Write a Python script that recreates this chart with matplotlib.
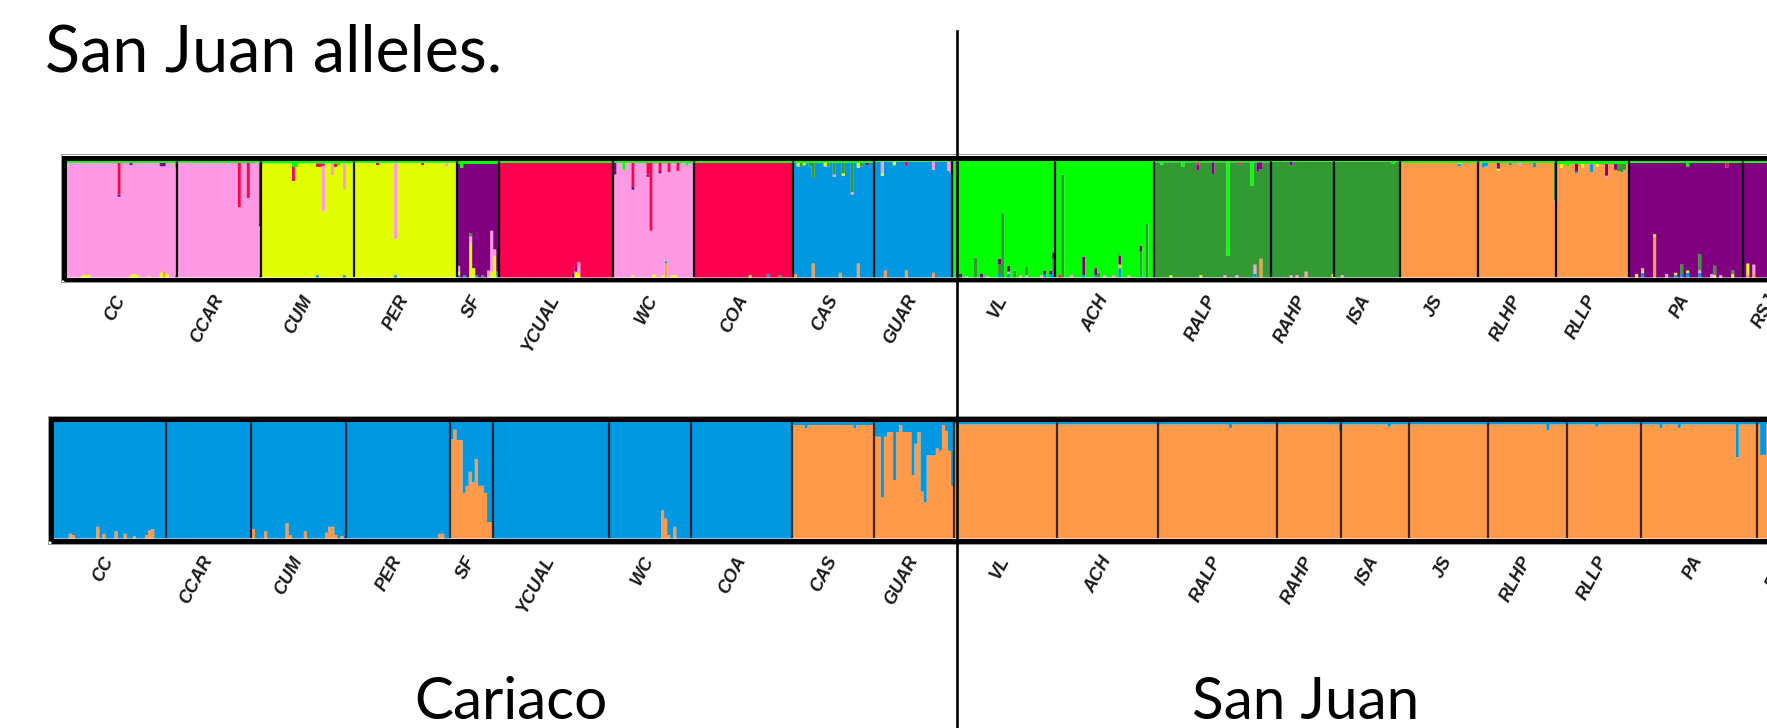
import numpy as np
import matplotlib
matplotlib.use("Agg")
import matplotlib.pyplot as plt
from matplotlib.patches import Rectangle
from matplotlib.lines import Line2D

# ---------------------------------------------------------------- data
pops = ["CC", "CCAR", "CUM", "PER", "SF", "YCUAL", "WC", "COA", "CAS", "GUAR",
        "VL", "ACH", "RALP", "RAHP", "ISA", "JS", "RLHP", "RLLP", "PA", "RSJ"]
pop_sizes = [37, 28, 31, 34, 14, 38, 27, 33, 27, 26,
             34, 33, 39, 21, 22, 26, 26, 24, 38, 20]

# cluster stacking order (bottom -> top) and colours
top_clusters = ["orange", "blue", "yellow", "pink", "dkgreen", "purple", "red", "green"]
bottom_clusters = ["orange", "blue"]
cluster_colors = {"orange": "#FF9A4B", "blue": "#0099E1", "yellow": "#E1FF00",
                  "pink": "#FF99E3", "dkgreen": "#339933", "purple": "#800080",
                  "red": "#FF0050", "green": "#00FF00"}

# upper panel (K = 8): main cluster per population and thin green share on top
top_main = ["pink", "pink", "yellow", "yellow", "purple", "red", "pink", "red", "blue", "blue",
            "green", "green", "dkgreen", "dkgreen", "dkgreen", "orange", "orange", "orange",
            "purple", "purple"]
top_strip = [0.02, 0.02, 0.025, 0.02, 0.03, 0.02, 0.02, 0.02, 0.02, 0.01,
             0.0, 0.0, 0.015, 0.01, 0.01, 0.02, 0.02, 0.03, 0.02, 0.02]
# admixed individuals: (population, individual, cluster, proportion)
top_admixture = [
    ("CC", 5, "yellow", 0.02), ("CC", 6, "yellow", 0.02), ("CC", 7, "yellow", 0.02),
    ("CC", 17, "red", 0.27), ("CC", 17, "purple", 0.02), ("CC", 21, "purple", 0.02),
    ("CC", 21, "yellow", 0.02), ("CC", 22, "yellow", 0.03), ("CC", 23, "yellow", 0.02),
    ("CC", 27, "yellow", 0.01), ("CC", 31, "purple", 0.03), ("CC", 31, "yellow", 0.04),
    ("CC", 32, "purple", 0.03), ("CC", 32, "orange", 0.06), ("CC", 33, "yellow", 0.03),
    ("CC", 36, "green", 0.04), ("CC", 36, "blue", 0.02),
    ("CCAR", 20, "red", 0.38), ("CCAR", 23, "red", 0.30), ("CCAR", 27, "red", 0.52),
    ("CCAR", 27, "purple", 0.02), ("CCAR", 27, "blue", 0.02),
    ("CUM", 10, "red", 0.12), ("CUM", 10, "green", 0.03), ("CUM", 11, "green", 0.03),
    ("CUM", 18, "red", 0.03), ("CUM", 18, "blue", 0.02), ("CUM", 19, "red", 0.03),
    ("CUM", 20, "pink", 0.39), ("CUM", 20, "red", 0.02), ("CUM", 23, "pink", 0.10),
    ("CUM", 24, "red", 0.03), ("CUM", 25, "green", 0.02), ("CUM", 27, "pink", 0.22),
    ("CUM", 27, "blue", 0.02),
    ("PER", 7, "red", 0.02), ("PER", 13, "pink", 0.65), ("PER", 13, "blue", 0.02),
    ("PER", 22, "red", 0.02), ("PER", 30, "pink", 0.03),
    ("SF", 0, "yellow", 0.03), ("SF", 0, "blue", 0.02), ("SF", 0, "pink", 0.05),
    ("SF", 1, "green", 0.03), ("SF", 2, "blue", 0.02), ("SF", 4, "yellow", 0.30),
    ("SF", 4, "pink", 0.05), ("SF", 4, "dkgreen", 0.03), ("SF", 5, "yellow", 0.08),
    ("SF", 6, "blue", 0.02), ("SF", 8, "dkgreen", 0.02), ("SF", 10, "pink", 0.06),
    ("SF", 11, "pink", 0.35), ("SF", 11, "yellow", 0.05), ("SF", 12, "yellow", 0.18),
    ("SF", 12, "pink", 0.06), ("SF", 13, "dkgreen", 0.03), ("SF", 13, "blue", 0.02),
    ("YCUAL", 24, "purple", 0.03), ("YCUAL", 25, "yellow", 0.05), ("YCUAL", 25, "purple", 0.04),
    ("YCUAL", 26, "pink", 0.10), ("YCUAL", 26, "yellow", 0.03),
    ("WC", 0, "purple", 0.10), ("WC", 3, "green", 0.06), ("WC", 6, "red", 0.20),
    ("WC", 6, "purple", 0.03), ("WC", 6, "yellow", 0.02), ("WC", 11, "red", 0.10),
    ("WC", 11, "purple", 0.02), ("WC", 12, "red", 0.58), ("WC", 13, "yellow", 0.03),
    ("WC", 15, "red", 0.07), ("WC", 15, "purple", 0.02), ("WC", 16, "yellow", 0.02),
    ("WC", 17, "orange", 0.12), ("WC", 17, "blue", 0.02), ("WC", 18, "red", 0.08),
    ("WC", 19, "yellow", 0.02), ("WC", 20, "yellow", 0.02), ("WC", 21, "red", 0.07),
    ("WC", 24, "green", 0.02),
    ("COA", 18, "yellow", 0.02), ("COA", 24, "blue", 0.03), ("COA", 28, "dkgreen", 0.02),
    ("CAS", 0, "orange", 0.03), ("CAS", 1, "yellow", 0.03), ("CAS", 2, "dkgreen", 0.03),
    ("CAS", 3, "yellow", 0.02), ("CAS", 5, "dkgreen", 0.03), ("CAS", 6, "dkgreen", 0.13),
    ("CAS", 6, "orange", 0.12), ("CAS", 10, "yellow", 0.03), ("CAS", 11, "dkgreen", 0.03),
    ("CAS", 13, "dkgreen", 0.10), ("CAS", 13, "pink", 0.02), ("CAS", 15, "orange", 0.04),
    ("CAS", 16, "dkgreen", 0.09), ("CAS", 16, "yellow", 0.02), ("CAS", 19, "dkgreen", 0.25),
    ("CAS", 19, "pink", 0.02), ("CAS", 21, "yellow", 0.04), ("CAS", 21, "orange", 0.12),
    ("CAS", 22, "dkgreen", 0.03), ("CAS", 24, "purple", 0.02),
    ("GUAR", 2, "pink", 0.10), ("GUAR", 2, "yellow", 0.02), ("GUAR", 3, "orange", 0.06),
    ("GUAR", 6, "yellow", 0.03), ("GUAR", 10, "red", 0.04), ("GUAR", 10, "orange", 0.06),
    ("GUAR", 19, "pink", 0.07), ("GUAR", 19, "orange", 0.04), ("GUAR", 24, "pink", 0.08),
    ("GUAR", 25, "pink", 0.10),
    ("VL", 1, "pink", 0.02), ("VL", 1, "blue", 0.02), ("VL", 2, "purple", 0.03),
    ("VL", 4, "pink", 0.01), ("VL", 7, "dkgreen", 0.17), ("VL", 9, "purple", 0.03),
    ("VL", 11, "pink", 0.01), ("VL", 15, "blue", 0.03), ("VL", 15, "dkgreen", 0.08),
    ("VL", 15, "purple", 0.05), ("VL", 16, "dkgreen", 0.55), ("VL", 18, "purple", 0.05),
    ("VL", 18, "blue", 0.03), ("VL", 18, "pink", 0.02), ("VL", 20, "dkgreen", 0.06),
    ("VL", 22, "pink", 0.02), ("VL", 24, "dkgreen", 0.07), ("VL", 24, "pink", 0.02),
    ("VL", 29, "pink", 0.02), ("VL", 30, "blue", 0.03), ("VL", 30, "purple", 0.03),
    ("VL", 32, "blue", 0.03), ("VL", 32, "purple", 0.03), ("VL", 33, "dkgreen", 0.12),
    ("VL", 33, "purple", 0.05), ("VL", 33, "blue", 0.04),
    ("ACH", 1, "red", 0.02), ("ACH", 2, "dkgreen", 0.88), ("ACH", 5, "pink", 0.02),
    ("ACH", 9, "purple", 0.16), ("ACH", 9, "blue", 0.02), ("ACH", 13, "purple", 0.06),
    ("ACH", 13, "blue", 0.02), ("ACH", 14, "dkgreen", 0.04), ("ACH", 16, "pink", 0.02),
    ("ACH", 19, "pink", 0.02), ("ACH", 21, "blue", 0.08), ("ACH", 21, "yellow", 0.03),
    ("ACH", 21, "purple", 0.08), ("ACH", 24, "pink", 0.02), ("ACH", 28, "dkgreen", 0.20),
    ("ACH", 28, "purple", 0.05), ("ACH", 28, "blue", 0.02), ("ACH", 30, "dkgreen", 0.46),
    ("RALP", 2, "green", 0.02), ("RALP", 5, "yellow", 0.02), ("RALP", 9, "green", 0.04),
    ("RALP", 14, "purple", 0.05), ("RALP", 14, "red", 0.02), ("RALP", 15, "yellow", 0.02),
    ("RALP", 19, "purple", 0.10), ("RALP", 23, "pink", 0.02), ("RALP", 24, "green", 0.80),
    ("RALP", 27, "pink", 0.02), ("RALP", 28, "red", 0.02), ("RALP", 32, "green", 0.20),
    ("RALP", 33, "pink", 0.08), ("RALP", 33, "blue", 0.03), ("RALP", 34, "purple", 0.08),
    ("RALP", 35, "purple", 0.06), ("RALP", 35, "orange", 0.16),
    ("RAHP", 6, "purple", 0.03), ("RAHP", 6, "pink", 0.02), ("RAHP", 8, "pink", 0.02),
    ("RAHP", 11, "pink", 0.03), ("RAHP", 11, "orange", 0.02), ("RAHP", 20, "yellow", 0.03),
    ("ISA", 2, "pink", 0.02), ("ISA", 19, "green", 0.02),
    ("JS", 19, "blue", 0.02), ("JS", 19, "yellow", 0.01),
    ("RLHP", 1, "blue", 0.04), ("RLHP", 2, "blue", 0.03), ("RLHP", 6, "purple", 0.05),
    ("RLHP", 6, "yellow", 0.02), ("RLHP", 10, "blue", 0.02), ("RLHP", 13, "pink", 0.02),
    ("RLHP", 18, "blue", 0.04), ("RLHP", 25, "dkgreen", 0.32), ("RLHP", 25, "pink", 0.02),
    ("RLLP", 1, "yellow", 0.03), ("RLLP", 3, "green", 0.02), ("RLLP", 6, "purple", 0.06),
    ("RLLP", 6, "blue", 0.02), ("RLLP", 8, "yellow", 0.03), ("RLLP", 11, "blue", 0.07),
    ("RLLP", 13, "yellow", 0.02), ("RLLP", 16, "purple", 0.10), ("RLLP", 16, "pink", 0.02),
    ("RLLP", 19, "purple", 0.05), ("RLLP", 20, "dkgreen", 0.06), ("RLLP", 21, "dkgreen", 0.07),
    ("RLLP", 22, "dkgreen", 0.05),
    ("PA", 2, "yellow", 0.03), ("PA", 4, "pink", 0.02), ("PA", 4, "blue", 0.04),
    ("PA", 4, "yellow", 0.02), ("PA", 8, "yellow", 0.02), ("PA", 8, "orange", 0.35),
    ("PA", 12, "pink", 0.03), ("PA", 15, "yellow", 0.02), ("PA", 15, "blue", 0.02),
    ("PA", 17, "dkgreen", 0.08), ("PA", 17, "blue", 0.03), ("PA", 19, "blue", 0.04),
    ("PA", 19, "yellow", 0.02), ("PA", 19, "green", 0.03), ("PA", 23, "dkgreen", 0.14),
    ("PA", 23, "blue", 0.04), ("PA", 23, "pink", 0.02), ("PA", 27, "pink", 0.03),
    ("PA", 28, "dkgreen", 0.08), ("PA", 28, "yellow", 0.02), ("PA", 30, "pink", 0.02),
    ("PA", 32, "red", 0.04), ("PA", 34, "yellow", 0.03), ("PA", 34, "dkgreen", 0.03),
    ("RSJ", 1, "yellow", 0.10), ("RSJ", 1, "orange", 0.02), ("RSJ", 3, "pink", 0.08),
    ("RSJ", 3, "orange", 0.03),
]

# lower panel (K = 2)
bottom_main = ["blue"] * 8 + ["orange"] * 12
bottom_strip = [0.0] * 8 + [0.03, 0.0] + [0.025] * 10
guar_blue = [0.13, 0.13, 0.65, 0.13, 0.09, 0.09, 0.50, 0.09, 0.03, 0.09, 0.09, 0.09, 0.46,
             0.19, 0.09, 0.60, 0.69, 0.29, 0.29, 0.29, 0.23, 0.25, 0.03, 0.08, 0.25, 0.55]
sf_orange = [0.85, 0.93, 0.84, 0.84, 0.39, 0.45, 0.57, 0.48, 0.68, 0.45, 0.45, 0.39, 0.14, 0.14]
bottom_admixture = [
    ("CC", 5, "orange", 0.04), ("CC", 6, "orange", 0.03), ("CC", 14, "orange", 0.10),
    ("CC", 16, "orange", 0.04), ("CC", 20, "orange", 0.06), ("CC", 23, "orange", 0.04),
    ("CC", 26, "orange", 0.02), ("CC", 30, "orange", 0.03), ("CC", 31, "orange", 0.07),
    ("CC", 32, "orange", 0.08),
    ("CUM", 0, "orange", 0.08), ("CUM", 4, "orange", 0.06), ("CUM", 11, "orange", 0.13),
    ("CUM", 12, "orange", 0.03), ("CUM", 17, "orange", 0.06), ("CUM", 24, "orange", 0.05),
    ("CUM", 25, "orange", 0.10), ("CUM", 26, "orange", 0.10), ("CUM", 27, "orange", 0.03),
    ("CUM", 29, "orange", 0.02),
    ("PER", 30, "orange", 0.04), ("PER", 31, "orange", 0.04),
    ("WC", 17, "orange", 0.24), ("WC", 18, "orange", 0.17), ("WC", 19, "orange", 0.03),
    ("WC", 21, "orange", 0.10),
    ("CAS", 4, "blue", 0.03), ("CAS", 20, "blue", 0.03),
    ("RALP", 23, "blue", 0.03), ("RAHP", 20, "blue", 0.06), ("ISA", 15, "blue", 0.02),
    ("RLHP", 19, "blue", 0.05), ("RLLP", 9, "blue", 0.02), ("PA", 6, "blue", 0.03),
    ("PA", 12, "blue", 0.03), ("PA", 31, "blue", 0.28), ("RSJ", 1, "blue", 0.26),
    ("RSJ", 2, "blue", 0.26),
] + [("GUAR", i, "blue", v) for i, v in enumerate(guar_blue)] \
  + [("SF", i, "orange", v) for i, v in enumerate(sf_orange)]

# ---------------------------------------------------------------- helpers
W, H = 1767, 728
fig = plt.figure(figsize=(W / 100, H / 100), dpi=100, facecolor="white")

starts = np.concatenate([[0], np.cumsum(pop_sizes)])
n_ind = int(starts[-1])
pop_index = {p: i for i, p in enumerate(pops)}


def membership(clusters, main, strip, strip_cluster, admixture):
    col = {c: k for k, c in enumerate(clusters)}
    q = np.zeros((n_ind, len(clusters)))
    for p in range(len(pops)):
        if main[p] != strip_cluster:
            q[starts[p]:starts[p + 1], col[strip_cluster]] = strip[p]
    for pop, i, c, f in admixture:
        q[starts[pop_index[pop]] + i, col[c]] += f
    for p in range(len(pops)):
        rows = slice(starts[p], starts[p + 1])
        q[rows, col[main[p]]] = 1.0 - q[rows].sum(axis=1)
    return q


def fig_rect(x0, y0, x1, y1):
    return [x0 / W, 1 - y1 / H, (x1 - x0) / W, (y1 - y0) / H]


def draw_panel(q, clusters, bar_left, px_per_ind, y_top, y_bot, sep_alpha):
    x_right = bar_left + n_ind * px_per_ind
    ax = fig.add_axes(fig_rect(bar_left, y_top, x_right, y_bot))
    x = np.arange(n_ind + 1)
    base = np.zeros(n_ind)
    for k, c in enumerate(clusters):
        top = base + q[:, k]
        ax.fill_between(x, np.append(base, base[-1]), np.append(top, top[-1]),
                        step="post", color=cluster_colors[c], linewidth=0)
        base = top
    ax.vlines(starts[1:-1], 0, 1, color="black", linewidth=1.6, alpha=sep_alpha)
    ax.set_xlim(0, n_ind)
    ax.set_ylim(0, 1)
    for s in ax.spines.values():
        s.set_visible(False)
    ax.set_yticks([])
    centers = (starts[:-1] + starts[1:]) / 2
    ax.set_xticks(centers)
    ax.set_xticklabels(pops, rotation=62, ha="right", va="center",
                       rotation_mode="anchor", fontsize=13, style="italic",
                       fontweight="bold", family="Liberation Sans", color="#1a1a1a")
    ax.tick_params(axis="x", length=0, pad=14)
    # thick black frame with a faint grey rim
    fr = 5
    fig.add_artist(Rectangle(((bar_left - fr / 2) / W, 1 - (y_bot + fr / 2) / H),
                             (x_right - bar_left + fr) / W, (y_bot - y_top + fr) / H,
                             transform=fig.transFigure, fill=False,
                             edgecolor="black", linewidth=fr * 0.72, zorder=3))
    fig.add_artist(Rectangle(((bar_left - fr - 0.5) / W, 1 - (y_bot + fr + 0.5) / H),
                             (x_right - bar_left + 2 * fr + 1) / W,
                             (y_bot - y_top + 2 * fr + 1) / H,
                             transform=fig.transFigure, fill=False,
                             edgecolor="#9a9a9a", linewidth=0.7, zorder=3))
    return ax


q_top = membership(top_clusters, top_main, top_strip, "green", top_admixture)
q_bot = membership(bottom_clusters, bottom_main, bottom_strip, "blue", bottom_admixture)

draw_panel(q_top, top_clusters, 66, 3.005, 160, 277, 0.95)
draw_panel(q_bot, bottom_clusters, 53, 3.053, 421, 538, 0.75)

# region divider
fig.add_artist(Line2D([957 / W, 957 / W], [1 - 31 / H, 0], color="black",
                      linewidth=1.9, zorder=5))

title_font = dict(family="Lato", color="black")
fig.text(45 / W, 1 - 72 / H, "San Juan alleles.", fontsize=46.5, ha="left",
         va="baseline", **title_font)
fig.text(511 / W, 1 - 719 / H, "Cariaco", fontsize=42, ha="center", va="baseline",
         **title_font)
fig.text(1306 / W, 1 - 719 / H, "San Juan", fontsize=42, ha="center", va="baseline",
         **title_font)

fig.savefig("out.png", dpi=100, facecolor="white")
